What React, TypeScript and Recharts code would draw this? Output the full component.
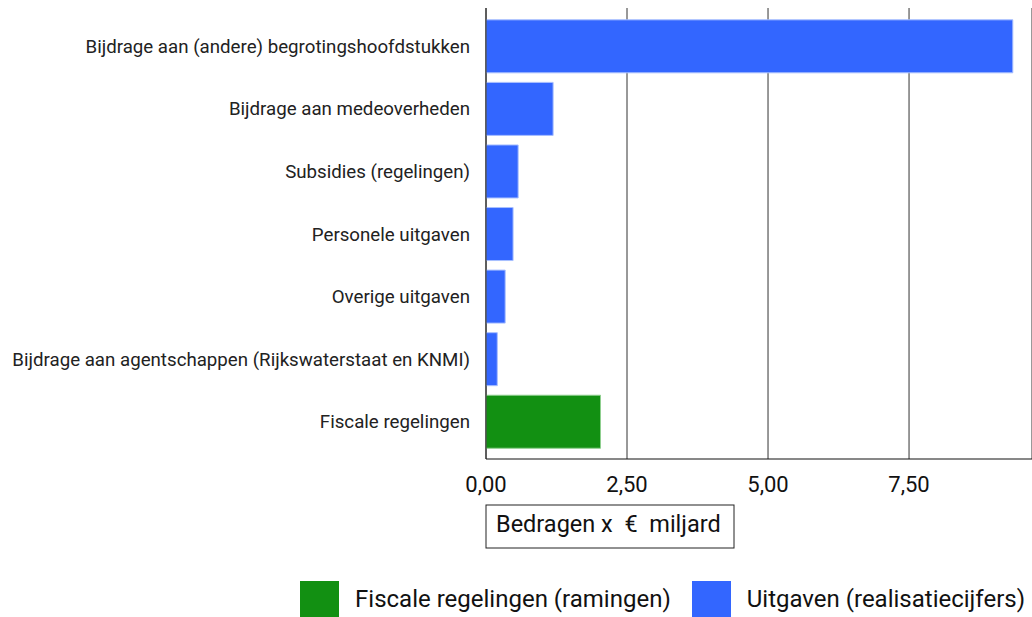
import React from "react";
import { BarChart, Bar, XAxis, YAxis, CartesianGrid, Legend } from "recharts";

const categories = [
  "Bijdrage aan (andere) begrotingshoofdstukken",
  "Bijdrage aan medeoverheden",
  "Subsidies (regelingen)",
  "Personele uitgaven",
  "Overige uitgaven",
  "Bijdrage aan agentschappen (Rijkswaterstaat en KNMI)",
  "Fiscale regelingen",
];
const uitgaven = [9.34, 1.19, 0.57, 0.48, 0.34, 0.2, null];
const fiscale = [null, null, null, null, null, null, 2.03];
const xTicks = [0, 2.5, 5, 7.5];

const GREEN = "#129012";
const BLUE = "#3366ff";
const FONT = "Roboto, sans-serif";

const data = categories.map((name, i) => ({
  name,
  uitgaven: uitgaven[i],
  fiscale: fiscale[i],
}));

const fmt = (v: number) => v.toFixed(2).replace(".", ",");

const AxisLabel = (props: any) => {
  const { x, y } = props.viewBox;
  return (
    <g>
      <rect x={x} y={y + 46} width={248} height={43} fill="#fff" stroke="#222" strokeWidth={1} />
      <text x={x + 10} y={y + 73} fontSize={23.5} fontFamily={FONT} fill="#111" style={{ whiteSpace: "pre" }}>
        {"Bedragen x  €  miljard"}
      </text>
    </g>
  );
};

const LegendContent = () => {
  const items = [
    { label: "Fiscale regelingen (ramingen)", color: GREEN },
    { label: "Uitgaven (realisatiecijfers)", color: BLUE },
  ];
  return (
    <div style={{ display: "flex", justifyContent: "flex-end", paddingRight: 7, fontFamily: FONT }}>
      {items.map((it) => (
        <div key={it.label} style={{ display: "flex", alignItems: "center", marginLeft: 21 }}>
          <div style={{ width: 39, height: 36, background: it.color }} />
          <span style={{ marginLeft: 16, fontSize: 24, color: "#111" }}>{it.label}</span>
        </div>
      ))}
    </div>
  );
};

export default function App() {
  return (
    <div style={{ position: "absolute", left: 0, top: 0 }}>
      <BarChart
        width={1032}
        height={617}
        data={data}
        layout="vertical"
        margin={{ top: 8, right: 0, bottom: 18, left: 0 }}
        barCategoryGap="7.7%"
      >
        <CartesianGrid horizontal={false} vertical stroke="#333" />
        <XAxis
          type="number"
          domain={[0, 9.68]}
          ticks={xTicks}
          tickFormatter={fmt}
          allowDataOverflow
          height={100}
          tickLine={false}
          tickSize={0}
          tickMargin={17}
          stroke="#111"
          tick={{ fontSize: 22, fontFamily: FONT, fill: "#111" }}
          label={{ content: AxisLabel }}
        />
        <YAxis
          type="category"
          dataKey="name"
          width={486}
          padding={{ top: 7, bottom: 6 }}
          tickLine={false}
          tickSize={0}
          tickMargin={16}
          stroke="#222"
          tick={{ fontSize: 18.7, fontFamily: FONT, fill: "#222" }}
          interval={0}
        />
        <Legend
          verticalAlign="bottom"
          height={40}
          wrapperStyle={{ left: 0, width: 1032, top: 581 }}
          content={LegendContent}
        />
        <Bar dataKey="fiscale" name="Fiscale regelingen (ramingen)" stackId="a" fill={GREEN} stroke="#8fcf8f" strokeWidth={1} isAnimationActive={false} />
        <Bar dataKey="uitgaven" name="Uitgaven (realisatiecijfers)" stackId="a" fill={BLUE} stroke="#a8bfff" strokeWidth={1} isAnimationActive={false} />
      </BarChart>
    </div>
  );
}
